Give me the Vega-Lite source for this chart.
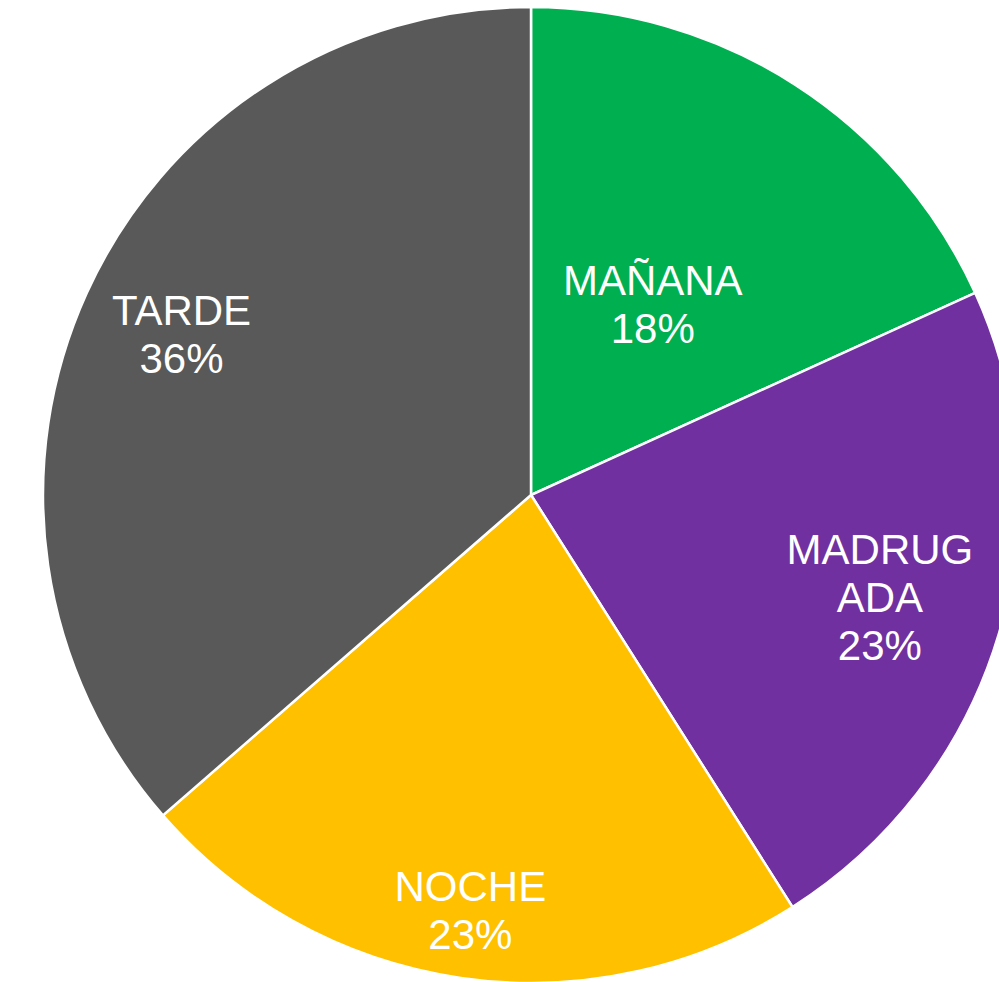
{
  "$schema": "https://vega.github.io/schema/vega-lite/v6.json",
  "width": 1062,
  "height": 990,
  "autosize": "none",
  "padding": 0,
  "background": "white",
  "view": {"stroke": null},
  "data": {
    "values": [
      {"nombre": "MAÑANA", "valor": 18.2, "orden": 1},
      {"nombre": "MADRUGADA", "valor": 22.8, "orden": 2},
      {"nombre": "NOCHE", "valor": 22.6, "orden": 3},
      {"nombre": "TARDE", "valor": 36.4, "orden": 4}
    ]
  },
  "transform": [
    {"stack": "valor", "groupby": [], "sort": [{"field": "orden", "order": "ascending"}], "as": ["v0", "v1"]},
    {"calculate": "(datum.v0 + datum.v1) / 2", "as": "medio"},
    {"calculate": "(datum.nombre == 'MADRUGADA' ? 'MADRUG\\nADA' : datum.nombre) + '\\n' + format(datum.valor, '.0f') + '%'", "as": "etiqueta"}
  ],
  "layer": [
    {
      "mark": {"type": "arc", "outerRadius": 488, "stroke": "white", "strokeWidth": 2.5},
      "encoding": {
        "theta": {"field": "v0", "type": "quantitative", "scale": {"domain": [0, 100]}},
        "theta2": {"field": "v1"},
        "color": {
          "field": "nombre",
          "type": "nominal",
          "scale": {
            "domain": ["MAÑANA", "MADRUGADA", "NOCHE", "TARDE"],
            "range": ["#00B050", "#7030A0", "#FFC000", "#595959"]
          },
          "legend": null
        }
      }
    },
    {
      "transform": [{"filter": "datum.nombre == 'MAÑANA'"}],
      "mark": {"type": "text", "radius": 225, "dy": -24, "font": "Liberation Sans", "fontSize": 42, "lineHeight": 48, "lineBreak": "\n", "align": "center", "baseline": "middle", "fill": "white"},
      "encoding": {
        "theta": {"field": "medio", "type": "quantitative", "scale": {"domain": [0, 100]}},
        "text": {"field": "etiqueta"}
      }
    },
    {
      "transform": [{"filter": "datum.nombre == 'MADRUGADA'"}],
      "mark": {"type": "text", "radius": 364, "dy": -48, "font": "Liberation Sans", "fontSize": 42, "lineHeight": 48, "lineBreak": "\n", "align": "center", "baseline": "middle", "fill": "white"},
      "encoding": {
        "theta": {"field": "medio", "type": "quantitative", "scale": {"domain": [0, 100]}},
        "text": {"field": "etiqueta"}
      }
    },
    {
      "transform": [{"filter": "datum.nombre == 'NOCHE'"}],
      "mark": {"type": "text", "radius": 421, "dy": -24, "font": "Liberation Sans", "fontSize": 42, "lineHeight": 48, "lineBreak": "\n", "align": "center", "baseline": "middle", "fill": "white"},
      "encoding": {
        "theta": {"field": "medio", "type": "quantitative", "scale": {"domain": [0, 100]}},
        "text": {"field": "etiqueta"}
      }
    },
    {
      "transform": [{"filter": "datum.nombre == 'TARDE'"}],
      "mark": {"type": "text", "radius": 384, "dy": -24, "font": "Liberation Sans", "fontSize": 42, "lineHeight": 48, "lineBreak": "\n", "align": "center", "baseline": "middle", "fill": "white"},
      "encoding": {
        "theta": {"field": "medio", "type": "quantitative", "scale": {"domain": [0, 100]}},
        "text": {"field": "etiqueta"}
      }
    }
  ]
}
